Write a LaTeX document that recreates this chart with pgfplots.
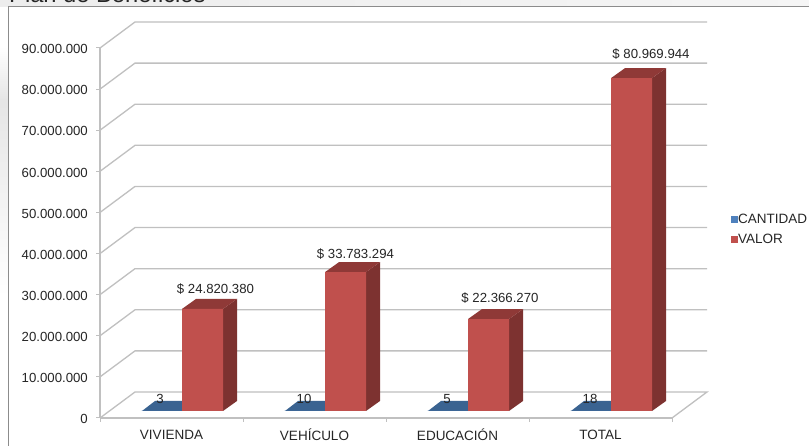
\documentclass[border=0pt]{standalone}
\usepackage{fontspec}
\setmainfont{Liberation Sans}
\usepackage{pgfplots}
\pgfplotsset{compat=1.18}
\newcommand\fs{\fontsize{13.2}{16}\selectfont}
\newcommand\fl{\fontsize{13.5}{16}\selectfont}
\definecolor{txt}{HTML}{262626}
\definecolor{gridc}{HTML}{C0C0C0}
\definecolor{framec}{HTML}{8C8C8C}
\definecolor{redf}{HTML}{C0504D}
\definecolor{reds}{HTML}{7D3230}
\definecolor{redt}{HTML}{8F3937}
\definecolor{bluef}{HTML}{3A6391}
\definecolor{bluel}{HTML}{4F81BD}
\begin{document}
\begin{tikzpicture}[x=1pt,y=1pt]
\path[use as bounding box,clip] (0,0) rectangle (809,446);
% page background
\fill[white] (0,0) rectangle (809,446);
\fill[left color=black!7,right color=black!4] (0,439) rectangle (809,446);
\fill[top color=white,bottom color=black!10] (0,346) rectangle (8,400);
\fill[top color=black!10,bottom color=white] (0,150) rectangle (8,346);
\draw[framec,line width=1pt] (8,0) -- (8,439) -- (809,439);
\node[anchor=base west,inner sep=0pt,text=txt,font=\fontsize{23.7}{28}\selectfont] at (9,443) {Plan de Beneficios};
% axis on the front plane: scale, walls, floor
\begin{axis}[
  at={(100pt,28pt)},anchor=south west,
  width=572pt,height=370pt,scale only axis,
  xmin=100,xmax=672,ymin=0,ymax=90000000,clip=false,
  axis x line=bottom,axis y line=left,
  axis line style={-,draw=gridc,line width=1.2pt},
  tick style={draw=gridc,line width=1pt},
  tick align=outside,major tick length=4pt,
  ytick={0,10000000,20000000,30000000,40000000,50000000,60000000,70000000,80000000,90000000},
  scaled y ticks=false,
  /pgf/number format/fixed,
  /pgf/number format/precision=0,
  /pgf/number format/1000 sep={.},
  /pgf/number format/assume math mode=true,
  y tick label style={font=\fs,text=txt,inner sep=0pt,xshift=-8pt,yshift=-1.2pt},
  xtick={100,243,386,529,672},
  xticklabels={},
  x tick label style={font=\fl,text=txt,inner sep=0pt,anchor=center,yshift=-17pt},
  extra x ticks={171.5,314.5,457.5,600.5},
  extra x tick labels={VIVIENDA,VEHÍCULO,EDUCACIÓN,TOTAL},
  extra x tick style={major tick length=0pt},
]
\addplot[gridc,line width=1.3pt] coordinates {(100,0)(135,6324000)(707,6324000)(672,0)};
\addplot[gridc,line width=1.3pt] coordinates {(100,10000000)(135,16324000)(707,16324000)};
\addplot[gridc,line width=1.3pt] coordinates {(100,20000000)(135,26324000)(707,26324000)};
\addplot[gridc,line width=1.3pt] coordinates {(100,30000000)(135,36324000)(707,36324000)};
\addplot[gridc,line width=1.3pt] coordinates {(100,40000000)(135,46324000)(707,46324000)};
\addplot[gridc,line width=1.3pt] coordinates {(100,50000000)(135,56324000)(707,56324000)};
\addplot[gridc,line width=1.3pt] coordinates {(100,60000000)(135,66324000)(707,66324000)};
\addplot[gridc,line width=1.3pt] coordinates {(100,70000000)(135,76324000)(707,76324000)};
\addplot[gridc,line width=1.3pt] coordinates {(100,80000000)(135,86324000)(707,86324000)};
\addplot[gridc,line width=1.3pt] coordinates {(100,90000000)(135,96324000)(707,96324000)};
\end{axis}
% axis of the bars: same scale, base 7 px higher
\begin{axis}[
  at={(100pt,28pt)},anchor=south west,
  width=572pt,height=370pt,scale only axis,
  xmin=100,xmax=672,ymin=-1702700,ymax=88297300,clip=false,
  hide axis,
  legend style={at={(axis cs:731,44200000)},anchor=west,draw=none,fill=none,inner sep=0pt,outer sep=0pt,
    font=\fl,text=txt,row sep=9pt,nodes={inner sep=0pt},/tikz/every even column/.append style={column sep=3.5pt}},
  legend cell align=left,
]
% blue floor faces
\addplot[forget plot,fill=bluef,draw=none] coordinates {(142,0)(155,2432000)(182,2432000)(182,0)} -- cycle;
\addplot[forget plot,fill=bluef,draw=none] coordinates {(285,0)(298,2432000)(325,2432000)(325,0)} -- cycle;
\addplot[forget plot,fill=bluef,draw=none] coordinates {(428,0)(441,2432000)(468,2432000)(468,0)} -- cycle;
\addplot[forget plot,fill=bluef,draw=none] coordinates {(571,0)(584,2432000)(611,2432000)(611,0)} -- cycle;
% red sides and tops
\addplot[forget plot,fill=reds,draw=none] coordinates {(223,0)(237,2432000)(237,27252380)(223,24820380)} -- cycle;
\addplot[forget plot,fill=redt,draw=none] coordinates {(182,24820380)(196,27252380)(237,27252380)(223,24820380)} -- cycle;
\addplot[forget plot,fill=reds,draw=none] coordinates {(366,0)(380,2432000)(380,36215294)(366,33783294)} -- cycle;
\addplot[forget plot,fill=redt,draw=none] coordinates {(325,33783294)(339,36215294)(380,36215294)(366,33783294)} -- cycle;
\addplot[forget plot,fill=reds,draw=none] coordinates {(509,0)(523,2432000)(523,24798270)(509,22366270)} -- cycle;
\addplot[forget plot,fill=redt,draw=none] coordinates {(468,22366270)(482,24798270)(523,24798270)(509,22366270)} -- cycle;
\addplot[forget plot,fill=reds,draw=none] coordinates {(652,0)(666,2432000)(666,83401944)(652,80969944)} -- cycle;
\addplot[forget plot,fill=redt,draw=none] coordinates {(611,80969944)(625,83401944)(666,83401944)(652,80969944)} -- cycle;
% legend entries and front faces
\addplot[ybar,bar width=41,bar shift=0pt,fill=bluel,draw=none,
  legend image code/.code={\fill[bluel] (0pt,-3.5pt) rectangle (7pt,3.5pt);}] coordinates {(161.5,3)(304.5,10)(447.5,5)(590.5,18)};
\addlegendentry{CANTIDAD}
\addplot[ybar,bar width=41,bar shift=0pt,fill=redf,draw=none,
  legend image code/.code={\fill[redf] (0pt,-3.5pt) rectangle (7pt,3.5pt);}] coordinates {(202.5,24820380)(345.5,33783294)(488.5,22366270)(631.5,80969944)};
\addlegendentry{VALOR}
% data labels
\node[font=\fs,text=txt] at (axis cs:215.5,29700000) {\$ 24.820.380};
\node[font=\fs,text=txt] at (axis cs:355.5,38190000) {\$ 33.783.294};
\node[font=\fs,text=txt] at (axis cs:500,27490000) {\$ 22.366.270};
\node[font=\fs,text=txt] at (axis cs:651,86840000) {\$ 80.969.944};
\node[font=\fs,text=txt] at (axis cs:160,2950000) {3};
\node[font=\fs,text=txt] at (axis cs:304,2950000) {10};
\node[font=\fs,text=txt] at (axis cs:447,2950000) {5};
\node[font=\fs,text=txt] at (axis cs:590,2950000) {18};
\end{axis}
\end{tikzpicture}
\end{document}
